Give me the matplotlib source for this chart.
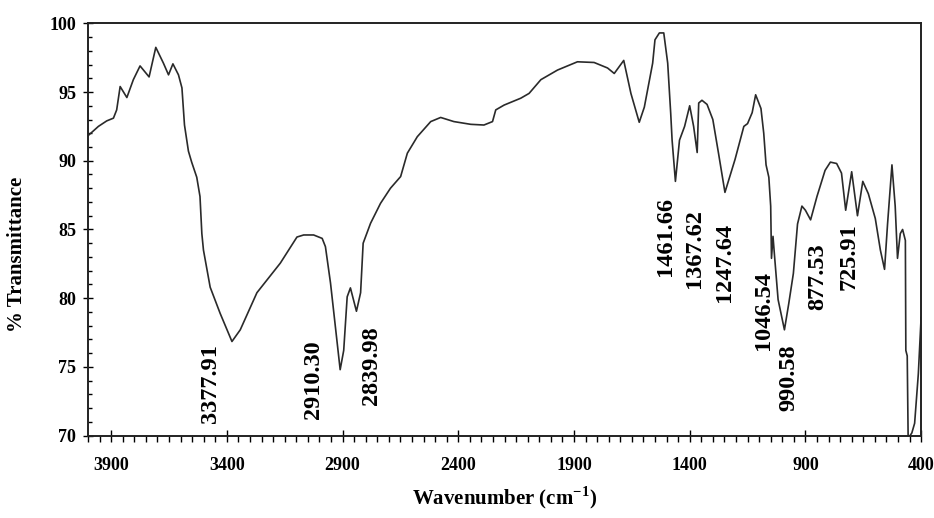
import numpy as np
import matplotlib
matplotlib.use("Agg")
import matplotlib.pyplot as plt
from matplotlib.ticker import MultipleLocator

plt.rcParams['font.family'] = ['Liberation Serif', 'DejaVu Serif']
plt.rcParams['font.weight'] = 'bold'
plt.rcParams['mathtext.fontset'] = 'custom'
plt.rcParams['mathtext.rm'] = 'Liberation Serif:bold'
plt.rcParams['mathtext.bf'] = 'Liberation Serif:bold'

# FTIR spectrum (wavenumber in cm-1, % transmittance)
wavenumber = [3998, 3955, 3919, 3890, 3876, 3861, 3832, 3804, 3775, 3736,
              3707, 3674, 3652, 3633, 3609, 3594, 3583, 3566, 3552, 3530,
              3516, 3508, 3501, 3472, 3429, 3377.91, 3342, 3270, 3169, 3097,
              3068, 3025, 2988, 2974, 2952, 2931, 2910.30, 2895, 2880, 2866,
              2839.98, 2822, 2811, 2779, 2736, 2693, 2649, 2620, 2577, 2519,
              2476, 2419, 2346, 2289, 2252, 2238, 2202, 2130, 2094, 2043,
              1971, 1885, 1813, 1755, 1726, 1685, 1654, 1618, 1596, 1560,
              1550, 1531, 1512, 1495, 1482, 1476, 1461.66, 1444, 1422, 1400,
              1383, 1367.62, 1361, 1347, 1325, 1300, 1275, 1247.64, 1204, 1166,
              1150, 1130, 1115, 1092, 1080, 1070, 1058, 1050, 1046.54, 1040,
              1033, 1018, 990.58, 972, 952, 934, 915, 900, 877.53, 850,
              815, 792, 765, 744, 725.91, 700, 675, 652, 628, 598,
              576, 558, 545, 526, 512, 502, 490, 480, 468, 466,
              460, 456, 440, 428, 412, 400]
transmittance = [91.85, 92.5, 92.9, 93.1, 93.7, 95.4, 94.6, 95.9, 96.9, 96.1,
                 98.25, 97.1, 96.25, 97.05, 96.25, 95.3, 92.6, 90.7, 89.9, 88.8,
                 87.4, 84.7, 83.5, 80.8, 78.9, 76.85, 77.7, 80.4, 82.55, 84.45,
                 84.6, 84.6, 84.35, 83.75, 81.1, 77.95, 74.8, 76.2, 80.1, 80.75,
                 79.05, 80.4, 84.0, 85.45, 86.9, 88.0, 88.85, 90.55, 91.75, 92.85,
                 93.15, 92.85, 92.65, 92.6, 92.85, 93.7, 94.05, 94.55, 94.9, 95.9,
                 96.6, 97.2, 97.15, 96.75, 96.35, 97.3, 94.9, 92.8, 93.9, 97.1,
                 98.8, 99.3, 99.3, 97.1, 93.45, 91.5, 88.5, 91.5, 92.5, 94.0,
                 92.5, 90.6, 94.2, 94.4, 94.1, 93.0, 90.5, 87.7, 90.1, 92.5,
                 92.7, 93.5, 94.8, 93.8, 92.0, 89.7, 88.8, 86.7, 82.9, 84.5,
                 83.0, 79.9, 77.7, 79.6, 81.8, 85.4, 86.7, 86.4, 85.7, 87.4,
                 89.3, 89.9, 89.8, 89.1, 86.4, 89.2, 86.0, 88.5, 87.6, 85.8,
                 83.5, 82.1, 85.4, 89.7, 86.7, 82.9, 84.7, 85.0, 84.2, 76.2,
                 75.8, 69.8, 70.2, 70.9, 74.5, 78.6]

# labelled band positions
peaks = [3377.91, 2910.30, 2839.98, 1461.66, 1367.62, 1247.64,
         1046.54, 990.58, 877.53, 725.91]
peak_labels = ["3377.91", "2910.30", "2839.98", "1461.66", "1367.62", "1247.64",
               "1046.54", "990.58", "877.53", "725.91"]
# where each label's centre sits: (shift in cm-1, height in %T)
label_pos = [(94, 73.8), (116, 74.1), (-65, 75.1), (44, 84.5), (13, 83.6), (0, 82.6),
             (36, 79.1), (-20, 74.2), (-33, 81.6), (-16, 83.0)]

fig = plt.figure(figsize=(9.34, 5.18), dpi=100)
ax = fig.add_axes([0.0942, 0.159, 0.892, 0.796])

ax.plot(wavenumber, transmittance, color="#2a2a2a", linewidth=1.2)

for p, lab, (dx, ty) in zip(peaks, peak_labels, label_pos):
    ax.text(p + dx, ty, lab, rotation=90, ha="center", va="center",
            fontsize=17.5, fontweight="bold")

ax.set_xlim(4000, 400)
ax.set_ylim(70, 100)
ax.set_xticks([3900, 3400, 2900, 2400, 1900, 1400, 900, 400])
ax.xaxis.set_minor_locator(MultipleLocator(50))
ax.yaxis.set_major_locator(MultipleLocator(5))
ax.yaxis.set_minor_locator(MultipleLocator(1))

ax.tick_params(axis="x", which="major", direction="inout", length=8.6, width=1,
               pad=11, labelsize=13)
ax.tick_params(axis="x", which="minor", direction="out", length=4.3, width=1)
ax.tick_params(axis="y", which="major", direction="inout", length=7.2, width=1,
               pad=5, labelsize=13)
ax.tick_params(axis="y", which="minor", direction="in", length=3, width=1)
for s in ax.spines.values():
    s.set_linewidth(1.4)
    s.set_color("#222222")

ax.set_xlabel("Wavenumber (cm$^{-1}$)", fontsize=15, fontweight="bold")
ax.set_ylabel("% Transmittance", fontsize=15, fontweight="bold")
ax.xaxis.set_label_coords(0.5, -0.118)
ax.yaxis.set_label_coords(-0.073, 0.44)

fig.savefig("out.png", dpi=100)
